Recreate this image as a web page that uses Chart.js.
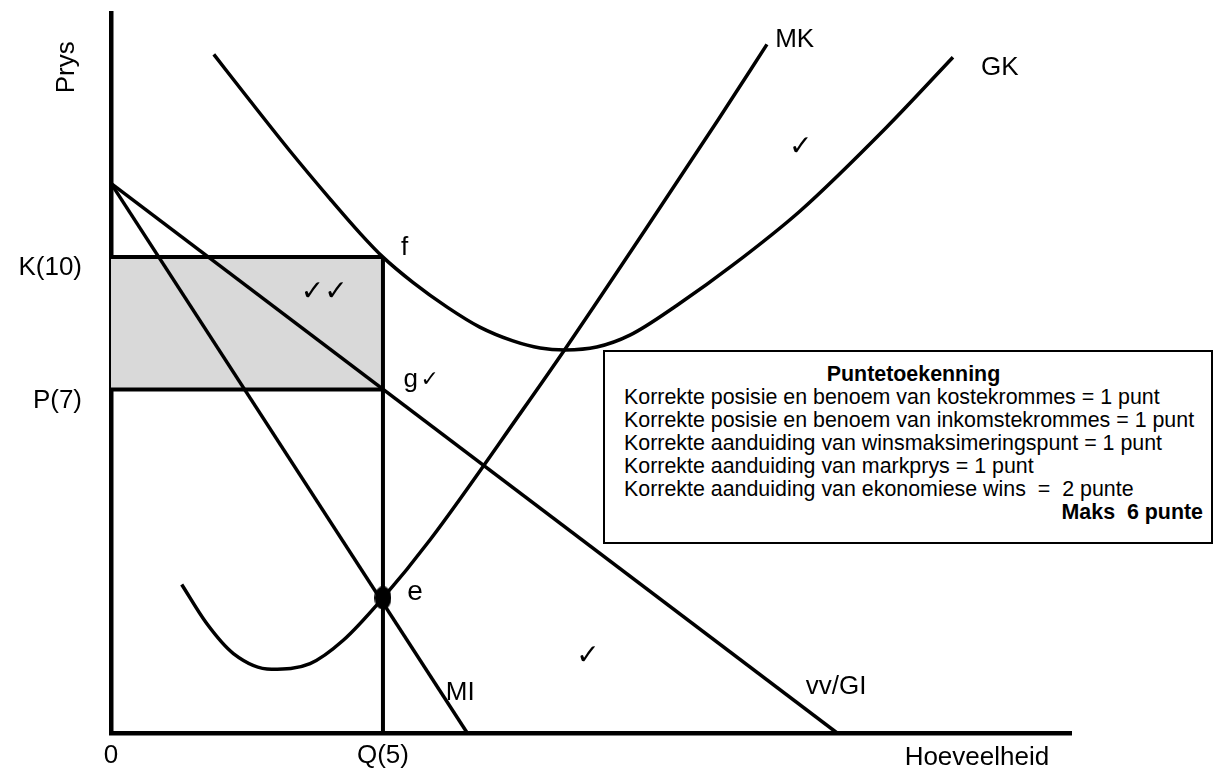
<!DOCTYPE html>
<html>
<head>
<meta charset="utf-8">
<title>Monopolie - ekonomiese wins</title>
<script src="https://cdn.jsdelivr.net/npm/chart.js@4.4.1/dist/chart.umd.min.js"></script>
<style>
  body { margin: 0; background: #fff; }
  .wrap { position: relative; width: 1224px; height: 769px; }
  .punte-box {
    position: absolute; left: 603px; top: 350px; width: 610px; height: 194px;
    box-sizing: border-box; border: 2px solid #000; background: #fff; color: #000;
    font-family: "Liberation Sans", Arial, sans-serif; font-size: 21.4px; line-height: 23px;
    padding: 11px 8px 0 19px; white-space: nowrap;
  }
  .punte-box .title { text-align: center; font-weight: bold; }
  .punte-box .total { text-align: right; font-weight: bold; }
</style>
</head>
<body>
<div class="wrap">
  <canvas id="myChart" width="1224" height="769"></canvas>
  <div class="punte-box"></div>
</div>
<script>
// curve points (hoeveelheid, prys)
var mkX = [1.30, 1.76, 2.25, 2.95, 3.66, 4.27, 5.0, 5.86, 7.57, 8.35, 9.82, 11.16, 12.06];
var mkY = [3.12, 2.30, 1.67, 1.34, 1.46, 1.95, 2.84, 4.05, 6.79, 8.07, 10.57, 12.88, 14.47];
var gkX = [1.89, 2.56, 3.29, 4.03, 4.58, 5.0, 5.55, 6.18, 6.78, 7.39, 7.89, 8.35, 8.93, 9.54, 10.46, 11.43, 12.67, 14.26, 15.48];
var gkY = [14.26, 13.28, 12.23, 11.22, 10.50, 10.0, 9.47, 8.95, 8.53, 8.24, 8.09, 8.05, 8.11, 8.36, 9.03, 9.83, 10.97, 12.73, 14.20];
var vvX = [0, 13.35];
var vvY = [11.55, 0];
var miX = [0, 6.55];
var miY = [11.55, 0];

// equilibrium values
var qValue = 5;
var kValue = 10;
var pValue = 7.22;
var eX = 5;
var eY = 2.84;

// axis ticks
var xTickValues = [0, 5];
var xTickLabels = ["0", "Q(5)"];
var yTickValues = [7.22, 10];
var yTickLabels = ["P(7)", "K(10)"];

// text in the marks box
var puntTitle = "Puntetoekenning";
var puntLines = [
  "Korrekte posisie en benoem van kostekrommes = 1 punt",
  "Korrekte posisie en benoem van inkomstekrommes = 1 punt",
  "Korrekte aanduiding van winsmaksimeringspunt = 1 punt",
  "Korrekte aanduiding van markprys = 1 punt",
  "Korrekte aanduiding van ekonomiese wins &nbsp;= &nbsp;2 punte"
];
var puntTotal = "Maks &nbsp;6 punte";

var labelFont = "26px 'Liberation Sans', Arial, sans-serif";
var tickFont = "28px 'DejaVu Sans', sans-serif";

// labels placed in chart units
var curveLabels = [
  { text: "MK", x: 12.57, y: 14.41, font: labelFont },
  { text: "GK", x: 16.34, y: 13.82, font: labelFont },
  { text: "f", x: 5.40, y: 10.04, font: labelFont },
  { text: "g", x: 5.51, y: 7.27, font: labelFont },
  { text: "e", x: 5.59, y: 2.79, font: "28px 'Liberation Sans', Arial, sans-serif" },
  { text: "MI", x: 6.42, y: 0.69, font: labelFont },
  { text: "vv/GI", x: 13.33, y: 0.82, font: labelFont },
  { text: "Hoeveelheid", x: 15.92, y: -0.67, font: labelFont },
  { text: "Prys", x: -0.81, y: 13.99, font: labelFont, rotate: true, baseline: "middle" },
  { text: "\u2713\u2713", x: 3.92, y: 9.26, font: tickFont, baseline: "middle" },
  { text: "\u2713", x: 5.86, y: 7.42, font: "22px 'DejaVu Sans', sans-serif", baseline: "middle" },
  { text: "\u2713", x: 12.68, y: 12.29, font: tickFont, baseline: "middle" },
  { text: "\u2713", x: 8.77, y: 1.60, font: tickFont, baseline: "middle" }
];

function toPoints(xs, ys) {
  return xs.map(function (x, i) { return { x: x, y: ys[i] }; });
}

// black ellipse for point e
function makeDot() {
  var c = document.createElement("canvas");
  c.width = 17;
  c.height = 23;
  var g = c.getContext("2d");
  g.fillStyle = "#000";
  g.beginPath();
  g.ellipse(8.5, 11.5, 8.5, 11.5, 0, 0, Math.PI * 2);
  g.fill();
  return c;
}

function fillBox() {
  var box = document.querySelector(".punte-box");
  var html = '<div class="title">' + puntTitle + '</div>';
  puntLines.forEach(function (line) { html += "<div>" + line + "</div>"; });
  html += '<div class="total">' + puntTotal + '</div>';
  box.innerHTML = html;
}

var textPlugin = {
  id: "textPlugin",
  afterDraw: function (chart) {
    var ctx = chart.ctx;
    var xs = chart.scales.x;
    var ys = chart.scales.y;
    ctx.save();
    ctx.fillStyle = "#000";
    curveLabels.forEach(function (l) {
      ctx.font = l.font;
      ctx.textAlign = "center";
      ctx.textBaseline = l.baseline || "alphabetic";
      var px = xs.getPixelForValue(l.x);
      var py = ys.getPixelForValue(l.y);
      if (l.rotate) {
        ctx.save();
        ctx.translate(px, py);
        ctx.rotate(-Math.PI / 2);
        ctx.fillText(l.text, 0, 0);
        ctx.restore();
      } else {
        ctx.fillText(l.text, px, py);
      }
    });
    ctx.restore();
  }
};

function lineSet(points, extra) {
  var ds = {
    data: points,
    showLine: true,
    borderColor: "#000",
    borderWidth: 3.5,
    pointRadius: 0,
    fill: false
  };
  for (var k in extra) ds[k] = extra[k];
  return ds;
}

Chart.defaults.font.family = "'Liberation Sans', Arial, sans-serif";
Chart.defaults.color = "#000";

init();
function init() {
  fillBox();
  var chart = document.getElementById("myChart").getContext("2d");
  new Chart(chart, {
    type: "scatter",
    data: {
      datasets: [
        { data: [{ x: eX, y: eY }], pointStyle: makeDot(), pointRadius: 9, showLine: false },
        lineSet(toPoints(mkX, mkY), { cubicInterpolationMode: "monotone" }),
        lineSet(toPoints(gkX, gkY), { cubicInterpolationMode: "monotone" }),
        lineSet(toPoints(vvX, vvY)),
        lineSet(toPoints(miX, miY)),
        lineSet([{ x: qValue, y: 0 }, { x: qValue, y: kValue }], { borderWidth: 4 }),
        // shaded profit rectangle between K and P
        lineSet([{ x: 0, y: kValue }, { x: qValue, y: kValue }], { borderWidth: 4, fill: "+1", backgroundColor: "#d9d9d9" }),
        lineSet([{ x: 0, y: pValue }, { x: qValue, y: pValue }], { borderWidth: 4 })
      ]
    },
    options: {
      responsive: false,
      animation: false,
      layout: { padding: { top: 13, right: 153, left: 0, bottom: 0 } },
      plugins: {
        legend: { display: false },
        tooltip: { enabled: false },
        filler: { drawTime: "beforeDatasetsDraw" }
      },
      scales: {
        x: {
          type: "linear",
          min: 0,
          max: 17.65,
          grid: { display: false, drawTicks: false },
          border: { display: true, color: "#000", width: 4.5 },
          afterFit: function (scale) {
            scale.height = 36;
            scale.paddingLeft = 0;
            scale.paddingRight = 0;
          },
          afterBuildTicks: function (scale) {
            scale.ticks = xTickValues.map(function (v) { return { value: v }; });
          },
          ticks: {
            padding: 7,
            maxRotation: 0,
            autoSkip: false,
            font: { size: 26 },
            color: "#000",
            callback: function (value, index) { return xTickLabels[index]; }
          }
        },
        y: {
          type: "linear",
          min: 0,
          max: 15.13,
          grid: { display: false, drawTicks: false },
          border: { display: true, color: "#000", width: 4.5 },
          afterFit: function (scale) {
            scale.width = 111;
            scale.paddingTop = 0;
            scale.paddingBottom = 0;
          },
          afterBuildTicks: function (scale) {
            scale.ticks = yTickValues.map(function (v) { return { value: v }; });
          },
          ticks: {
            padding: 29,
            labelOffset: 11,
            autoSkip: false,
            font: { size: 26 },
            color: "#000",
            callback: function (value, index) { return yTickLabels[index]; }
          }
        }
      }
    },
    plugins: [textPlugin]
  });
}
</script>
</body>
</html>
